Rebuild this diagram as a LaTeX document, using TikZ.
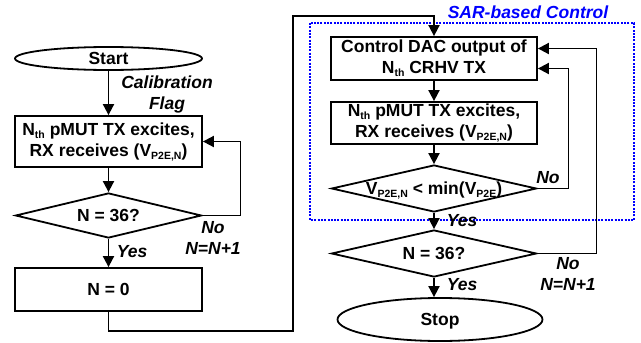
\documentclass[tikz,border=0pt]{standalone}
\usepackage{fontspec}
\setmainfont{Liberation Sans}
\usetikzlibrary{shapes.geometric,arrows.meta}
\newcommand\subs[1]{\raisebox{-3pt}{\fontsize{10.5}{10}\selectfont #1}}
\begin{document}
\begin{tikzpicture}[x=1pt,y=-1pt,
  every node/.style={font=\fontsize{17.5}{21}\selectfont\bfseries},
  proc/.style={draw,line width=1.8pt,rectangle,align=center,inner sep=0pt},
  term/.style={draw,line width=1.8pt,ellipse,inner sep=0pt,text height=12.5pt,text depth=0pt},
  dec/.style={draw,line width=1.8pt,diamond,inner sep=0pt},
  dtext/.style={inner sep=0pt,text height=12.5pt,text depth=0pt},
  lbl/.style={font=\fontsize{17.5}{21}\selectfont\bfseries\itshape,align=center,inner sep=0pt},
  flow/.style={line width=1.8pt,-{Triangle[length=11pt,width=11pt]}},
  sarbox/.style={draw=blue,line width=1.1pt,dash pattern=on 2pt off 1.3pt}]
\useasboundingbox (0,0) rectangle (641,343);

% blue dashed region
\draw[sarbox] (310,23) rectangle (634,220);
\node[lbl,text=blue] (sar) at (528,12) {SAR-based Control};

% left column
\node[term,minimum width=187pt,minimum height=23pt] (start) at (108.5,58.5) {Start};
\node[proc,minimum width=187pt,minimum height=51pt] (box1) at (108.5,141.5)
  {N\subs{th} pMUT TX excites,\\ RX receives (V\subs{P2E,N})};
\node[dec,minimum width=186pt,minimum height=45pt] (d1) at (108.5,215.5) {};
\node[dtext] (d1t) at (d1) {N = 36?};
\node[proc,minimum width=187pt,minimum height=43pt,text height=12.5pt,text depth=0pt] (box0) at (108.5,289.5) {N = 0};

% right column
\node[proc,minimum width=206pt,minimum height=43pt] (cdac) at (434,58.5)
  {Control DAC output of\\ N\subs{th} CRHV TX};
\node[proc,minimum width=206pt,minimum height=42pt] (box2) at (434,123)
  {N\subs{th} pMUT TX excites,\\ RX receives (V\subs{P2E,N})};
\node[dec,minimum width=205pt,minimum height=47pt] (d2) at (434,188.5) {};
\node[dtext] (d2t) at (d2) {V\subs{P2E,N} < min(V\subs{P2E})};
\node[dec,minimum width=205pt,minimum height=47pt] (d3) at (434,253.5) {};
\node[dtext] (d3t) at (d3) {N = 36?};
\node[term,minimum width=205pt,minimum height=43pt] (stop) at (440,319.5) {Stop};

% labels
\node[lbl] (calib) at (167,94) {Calibration\\ Flag};
\node[lbl] (no1) at (213,237.5) {No\\ N=N+1};
\node[lbl] (yes1) at (132,252) {Yes};
\node[lbl] (no2) at (548,178) {No};
\node[lbl] (yes2) at (462,221) {Yes};
\node[lbl] (no3) at (568,274) {No\\ N=N+1};
\node[lbl] (yes3) at (462,285) {Yes};

% helper coordinates
\coordinate (c1) at (293,331);
\coordinate (c2) at (293,16);
\coordinate (e1) at ([yshift=-10pt]cdac.east);
\coordinate (e2) at ([yshift=10pt]cdac.east);

% connectors
\draw[flow] (start.south) -- (box1.north);
\draw[flow] (box1.south) -- (d1.north);
\draw[flow] (d1.east) -- ++(38,0) |- (box1.east);
\draw[flow] (d1.south) -- (box0.north);
\draw[flow] (box0.south) |- (c1) -- (c2) -| (cdac.north);
\draw[flow] (cdac.south) -- (box2.north);
\draw[flow] (box2.south) -- (d2.north);
\draw[flow] (d2.east) -- ++(31,0) |- (e1);
\draw[flow] (d2.south) -- (d3.north);
\draw[flow] (d3.east) -- ++(59,0) |- (e2);
\draw[flow] (d3.south) -- (d3.south |- stop.north);
\end{tikzpicture}
\end{document}
